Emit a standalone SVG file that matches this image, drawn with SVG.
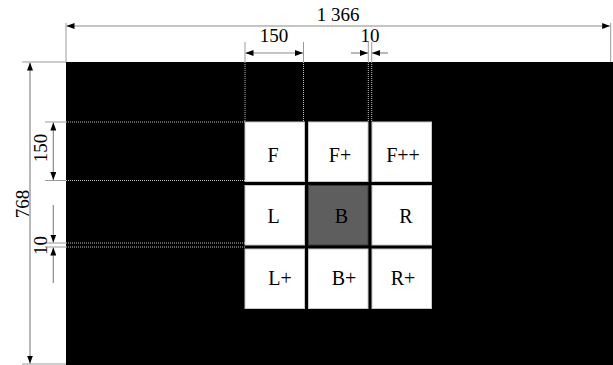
<svg xmlns="http://www.w3.org/2000/svg" width="613" height="365" viewBox="0 0 613 365">
<style>
.dim{stroke:#8a8a8a;stroke-width:1.2;fill:none}
.ext{stroke:#9a9a9a;stroke-width:1;fill:none}
.dot{stroke:#bdbdbd;stroke-width:1;stroke-dasharray:1 1;fill:none}
.lbl{font-family:"Liberation Serif","Times New Roman",serif;font-size:19px;fill:#000;text-anchor:middle}
.cell{fill:#fff;stroke:#c8c8c8;stroke-width:1}
.cellB{fill:#5e5e5e;stroke:#3a3a3a;stroke-width:1}
.ct{font-family:"Liberation Serif","Times New Roman",serif;font-size:20px;fill:#000;text-anchor:middle}
</style>
<defs>
<marker id="ah" viewBox="0 0 8 6" refX="8" refY="3" markerWidth="8" markerHeight="6" markerUnits="userSpaceOnUse" orient="auto-start-reverse">
<path d="M0,0 L8,3 L0,6 z" fill="#000"/>
</marker>
</defs>
<rect x="0" y="0" width="613" height="365" fill="#fff"/>
<rect id="screen" x="66" y="62" width="547" height="303" fill="#000"/>
<g id="connectors">
<!-- dotted guides -->
<line class="dot" x1="245" y1="62" x2="245" y2="122"/>
<line class="dot" x1="303.5" y1="62" x2="303.5" y2="122"/>
<line class="dot" x1="368.3" y1="62" x2="368.3" y2="122"/>
<line class="dot" x1="371.7" y1="62" x2="371.7" y2="122"/>
<line class="dot" x1="66" y1="122" x2="245" y2="122"/>
<line class="dot" x1="66" y1="180.5" x2="245" y2="180.5"/>
<line class="dot" x1="66" y1="243" x2="245" y2="243"/>
<line class="dot" x1="66" y1="247" x2="245" y2="247"/>
<!-- top 1366 -->
<line class="ext" x1="66" y1="23" x2="66" y2="62"/>
<line class="ext" x1="610.7" y1="23" x2="610.7" y2="62"/>
<line class="dim" x1="66.5" y1="26" x2="610.2" y2="26" marker-start="url(#ah)" marker-end="url(#ah)"/>
<!-- top 150 -->
<line class="ext" x1="245" y1="42" x2="245" y2="62"/>
<line class="ext" x1="303.5" y1="42" x2="303.5" y2="62"/>
<line class="dim" x1="245.5" y1="53" x2="303" y2="53" marker-start="url(#ah)" marker-end="url(#ah)"/>
<!-- top 10 -->
<line class="ext" x1="368.3" y1="42" x2="368.3" y2="62"/>
<line class="ext" x1="371.7" y1="42" x2="371.7" y2="62"/>
<line class="dim" x1="351" y1="53" x2="368" y2="53" marker-end="url(#ah)"/>
<line class="dim" x1="388" y1="53" x2="372" y2="53" marker-end="url(#ah)"/>
<!-- left 768 -->
<line class="ext" x1="22" y1="62" x2="66" y2="62"/>
<line class="ext" x1="22" y1="364" x2="66" y2="364"/>
<line class="dim" x1="30" y1="62.5" x2="30" y2="363.5" marker-start="url(#ah)" marker-end="url(#ah)"/>
<!-- left 150 -->
<line class="ext" x1="45" y1="122" x2="66" y2="122"/>
<line class="ext" x1="45" y1="180.5" x2="66" y2="180.5"/>
<line class="dim" x1="53.3" y1="122.5" x2="53.3" y2="180" marker-start="url(#ah)" marker-end="url(#ah)"/>
<!-- left 10 -->
<line class="ext" x1="45" y1="243" x2="66" y2="243"/>
<line class="ext" x1="45" y1="247" x2="66" y2="247"/>
<line class="dim" x1="53.3" y1="205" x2="53.3" y2="242.5" marker-end="url(#ah)"/>
<line class="dim" x1="53.3" y1="283" x2="53.3" y2="247.5" marker-end="url(#ah)"/>
</g>
<g id="labels">
<text class="lbl" x="338" y="21">1 366</text>
<text class="lbl" x="274" y="41.5">150</text>
<text class="lbl" x="370" y="41.5">10</text>
<text class="lbl" transform="translate(29.3,204) rotate(-90)">768</text>
<text class="lbl" transform="translate(46.5,148) rotate(-90)">150</text>
<text class="lbl" transform="translate(46.5,245.5) rotate(-90)">10</text>
</g>
<g id="cell-F"><rect class="cell" x="245" y="122" width="59.5" height="59.5"/><text class="ct" x="273" y="161.5">F</text></g>
<g id="cell-Fp"><rect class="cell" x="308.5" y="122" width="59.5" height="59.5"/><text class="ct" x="340" y="161.5">F+</text></g>
<g id="cell-Fpp"><rect class="cell" x="372" y="122" width="59.5" height="59.5"/><text class="ct" x="403" y="161.5">F++</text></g>
<g id="cell-L"><rect class="cell" x="245" y="185.5" width="59.5" height="59.5"/><text class="ct" x="273.5" y="222.5">L</text></g>
<g id="cell-B"><rect class="cellB" x="308.5" y="185.5" width="59.5" height="59.5"/><text class="ct" x="341.5" y="222.5">B</text></g>
<g id="cell-R"><rect class="cell" x="372" y="185.5" width="59.5" height="59.5"/><text class="ct" x="405.8" y="222.5">R</text></g>
<g id="cell-Lp"><rect class="cell" x="245" y="249" width="59.5" height="59.5"/><text class="ct" x="280" y="285">L+</text></g>
<g id="cell-Bp"><rect class="cell" x="308.5" y="249" width="59.5" height="59.5"/><text class="ct" x="344" y="285">B+</text></g>
<g id="cell-Rp"><rect class="cell" x="372" y="249" width="59.5" height="59.5"/><text class="ct" x="403" y="285">R+</text></g>
</svg>
